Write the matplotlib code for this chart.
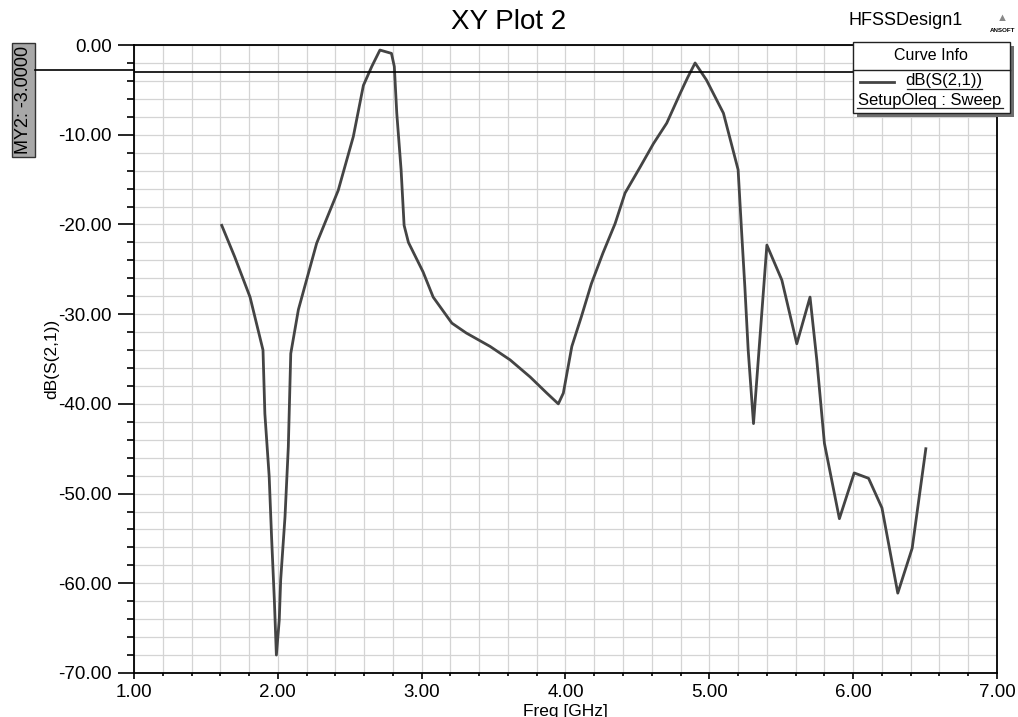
import matplotlib.pyplot as plt
from matplotlib.ticker import MultipleLocator, FormatStrFormatter
from matplotlib.patches import Rectangle
from matplotlib.lines import Line2D

plt.rcParams['font.family'] = ['Liberation Sans', 'DejaVu Sans']

freq = [1.61, 1.70, 1.807, 1.897, 1.91, 1.94, 1.957, 1.976, 1.99, 2.01, 2.02, 2.05,
        2.073, 2.09, 2.143, 2.27, 2.42, 2.525, 2.595, 2.653, 2.71, 2.79, 2.81,
        2.827, 2.857, 2.878, 2.908, 3.01, 3.08, 3.21, 3.31, 3.476, 3.615, 3.754,
        3.87, 3.95, 3.985, 4.044, 4.11, 4.18, 4.26, 4.345, 4.414, 4.519, 4.611,
        4.704, 4.797, 4.85, 4.901, 4.98, 5.098, 5.2, 5.225, 5.247, 5.27, 5.307,
        5.40, 5.504, 5.608, 5.70, 5.747, 5.80, 5.904, 6.007, 6.107, 6.2, 6.31,
        6.41, 6.505]
s21 = [-20.1, -23.6, -28.1, -34.0, -41.1, -48.1, -55.0, -61.9, -68.0, -64.1, -59.6, -52.6,
       -44.8, -34.4, -29.5, -22.1, -16.2, -10.2, -4.5, -2.4, -0.56, -0.93, -2.4,
       -7.6, -13.9, -20.1, -22.0, -25.3, -28.1, -31.0, -32.1, -33.6, -35.1, -37.0,
       -38.8, -40.0, -38.8, -33.6, -30.3, -26.6, -23.2, -19.9, -16.5, -13.6, -11.0,
       -8.7, -5.4, -3.6, -2.0, -3.9, -7.6, -13.9, -21.0, -27.0, -34.0, -42.2,
       -22.3, -26.2, -33.3, -28.1, -35.1, -44.4, -52.8, -47.7, -48.3, -51.6, -61.1,
       -56.1, -45.0]
marker_y = -3.0

fig = plt.figure(figsize=(10.18, 7.17), dpi=100)
ax = fig.add_axes([0.1316, 0.0614, 0.8478, 0.8758])

ax.plot(freq, s21, color='#444444', linewidth=2.0, zorder=3)
ax.axhline(marker_y, color='black', linewidth=1.2, zorder=4)

ax.set_xlim(1, 7)
ax.set_ylim(-70, 0)
ax.xaxis.set_major_locator(MultipleLocator(1))
ax.xaxis.set_minor_locator(MultipleLocator(0.2))
ax.yaxis.set_major_locator(MultipleLocator(10))
ax.yaxis.set_minor_locator(MultipleLocator(2))
ax.xaxis.set_major_formatter(FormatStrFormatter('%.2f'))
ax.yaxis.set_major_formatter(FormatStrFormatter('%.2f'))
ax.tick_params(axis='y', which='major', length=11.5, width=1.2, labelsize=13.5, pad=4.3)
ax.tick_params(axis='y', which='minor', length=5, width=1.2)
ax.tick_params(axis='x', which='major', length=4, width=1.2, labelsize=13.5, pad=4)
ax.tick_params(axis='x', which='minor', length=2.5, width=1.2)
ax.grid(which='both', color='#d4d4d4', linewidth=0.9, zorder=0)
for s in ax.spines.values():
    s.set_linewidth(1.3)

ax.set_xlabel('Freq [GHz]', fontsize=12.5)
ax.xaxis.set_label_coords(0.5, -0.049)
ax.set_ylabel('dB(S(2,1))', fontsize=12.5)
ax.yaxis.set_label_coords(-0.087, 0.5)

fig.text(0.5, 0.969, 'XY Plot 2', fontsize=20, ha='center', va='center')
fig.text(0.89, 0.972, 'HFSSDesign1', fontsize=13, ha='center', va='center')
fig.text(0.985, 0.975, '\u25b2', fontsize=8, color='#888888', ha='center', va='center')
fig.text(0.985, 0.958, 'ANSOFT', fontsize=4.5, fontweight='bold', ha='center', va='center')

# marker label box on the left
W, H = 1018, 717
fig.patches.append(Rectangle((12 / W, 1 - 157 / H), 23 / W, 114 / H, transform=fig.transFigure,
                             facecolor='#a8a8a8', edgecolor='#333333', linewidth=1))
fig.text(23.5 / W, 1 - 100 / H, 'MY2: -3.0000', rotation=90, fontsize=13, ha='center', va='center')
fig.lines.append(Line2D([35 / W, 134 / W], [1 - 70 / H, 1 - 70 / H], transform=fig.transFigure,
                        color='black', linewidth=1.2))

# curve info box
fig.patches.append(Rectangle((857 / W, 1 - 117 / H), 157 / W, 71 / H, transform=fig.transFigure,
                             facecolor='#6e6e6e', edgecolor='none', zorder=5))
fig.patches.append(Rectangle((853 / W, 1 - 113 / H), 157 / W, 71 / H, transform=fig.transFigure,
                             facecolor='white', edgecolor='#222222', linewidth=1, zorder=6))
fig.lines.append(Line2D([853 / W, 1010 / W], [1 - 70 / H, 1 - 70 / H], transform=fig.transFigure,
                        color='#222222', linewidth=1, zorder=7))
fig.lines.append(Line2D([860 / W, 894 / W], [1 - 82 / H, 1 - 82 / H], transform=fig.transFigure,
                        color='#444444', linewidth=2, zorder=7))
fig.text(931 / W, 1 - 56 / H, 'Curve Info', fontsize=11.5, ha='center', va='center', zorder=8)
fig.text(944 / W, 1 - 81 / H, 'dB(S(2,1))', fontsize=12, ha='center', va='center', zorder=8)
fig.lines.append(Line2D([907 / W, 982 / W], [1 - 89 / H, 1 - 89 / H], transform=fig.transFigure,
                        color='#222222', linewidth=0.9, zorder=8))
fig.text(930 / W, 1 - 100 / H, 'SetupOleq : Sweep', fontsize=12, ha='center', va='center', zorder=8)
fig.lines.append(Line2D([857 / W, 1003 / W], [1 - 108 / H, 1 - 108 / H], transform=fig.transFigure,
                        color='#222222', linewidth=0.9, zorder=8))

fig.savefig('out.png', dpi=100)
